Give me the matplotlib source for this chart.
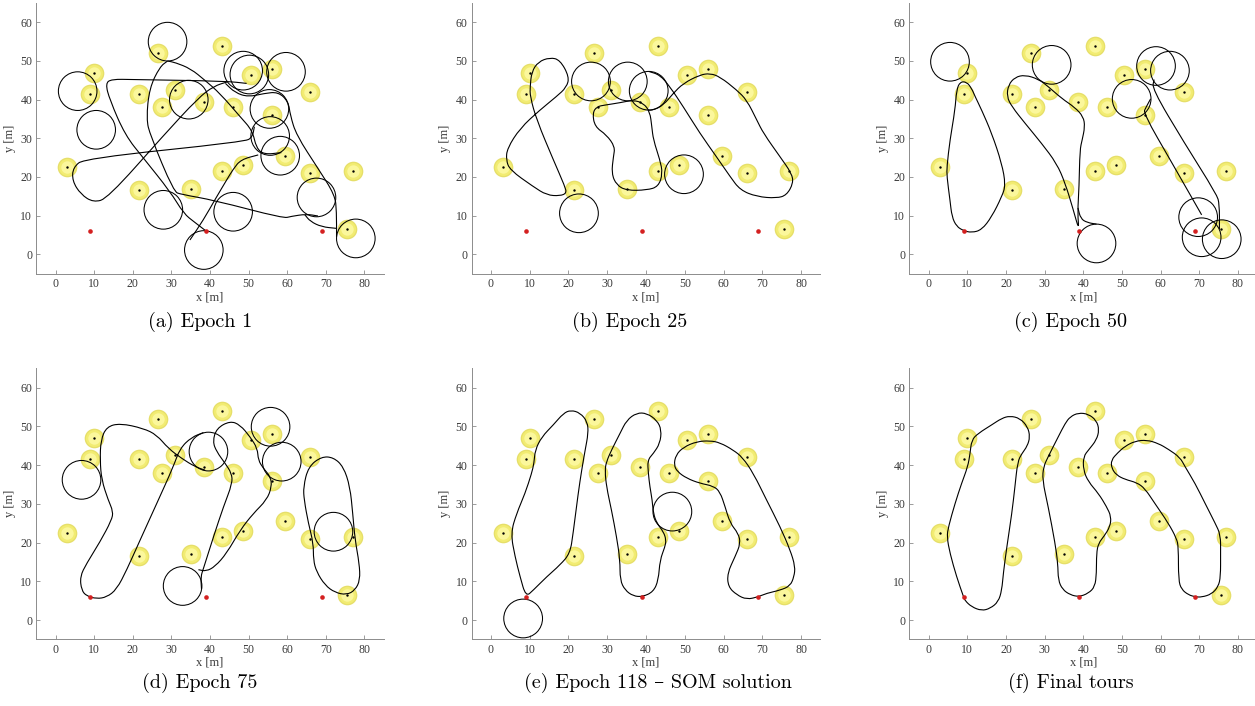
import matplotlib.pyplot as plt
from matplotlib.path import Path
from matplotlib.patches import PathPatch, Circle

# target positions [m]
targets_x = [3, 10, 9, 21.5, 26.5, 31, 27.5, 38.5, 43, 46, 50.5, 56, 56, 66,
             59.5, 48.5, 43, 35, 21.5, 66, 77, 75.5]
targets_y = [22.5, 47, 41.5, 41.5, 52, 42.5, 38, 39.5, 54, 38, 46.5, 48, 36, 42,
             25.5, 23, 21.5, 17, 16.5, 21, 21.5, 6.5]

# depots [m]
depots_x = [9, 39, 69]
depots_y = [6, 6, 6]

TURN_R = 5.0

# ---- (a) epoch 1 ----
strokes_a = [
    [(39, 6), (36, 8.3), (33.2, 10.5), (29.7, 16.2), (22.8, 24.8), (18, 30.8),
     (14, 40), (12.9, 44.2), (14.5, 45.3), (20, 45.2), (44, 44.8), (49.5, 44.2)],
    [(51.5, 33), (51, 30.3), (49, 29.1), (7.5, 24.8), (4.5, 22.5), (4.3, 19),
     (6.5, 15.5), (9.8, 13.4), (13.5, 14.5), (28, 30.8), (37, 40.5), (41, 43.5),
     (44.5, 44.6)],
    [(29, 50), (27, 48.5), (24.3, 43), (23.5, 35), (24.5, 30.8), (30.6, 16.2),
     (32.5, 15.5), (41, 14), (59, 9.3), (61, 9.8), (65, 10.4), (68, 9.9)],
    [(29, 50), (31, 49.6), (35, 48), (38.7, 45), (42.6, 41.6), (47.8, 35.6),
     (51, 32), (52, 27.5), (54, 25.8), (58.5, 26.3)],
    [(34.8, 3.7), (38.3, 8.9), (41.5, 14.5), (44.3, 19.2), (46, 22), (48, 24.5),
     (52.5, 25.7)],
    [(44, 44.2), (46.5, 41.8), (49.9, 40.7), (54, 41.6), (57.7, 42), (60.3, 39.5),
     (60.8, 36), (62.4, 30.8), (68, 22.2), (72.4, 15.3), (72.8, 11), (72.8, 4.5)],
    [(64.6, 10.2), (66, 8.5), (68.9, 7.1), (72.8, 6.7)],
]
loops_a = [(29, 55), (5.7, 42.2), (10.5, 32.2), (34.5, 40), (48.6, 47.5),
           (50.2, 46.5), (59.7, 47.2), (55.4, 37.6), (55.6, 30.6), (58.2, 25.5),
           (27.9, 11.5), (46, 11), (67.6, 14.7), (38.4, 1.1), (77.8, 4.1)]

# ---- (b) epoch 25 ----
tours_b = [
    [(3.9, 24.4), (4.2, 27.4), (7.5, 32.6), (12.6, 37.3), (16.9, 40.8), (19.5, 43.2),
     (20.2, 45.9), (17.8, 50.3), (15.2, 50.9), (12.2, 49.8), (10.5, 47.2), (10.1, 43.4),
     (10.1, 40.8), (11.8, 34.7), (16.1, 24.4), (19.1, 17.5), (19.5, 15.8), (17.8, 15.1),
     (14.4, 15.3), (10.9, 17.5), (4.9, 21.8)],
    [(29.4, 38.6), (33.3, 39.2), (36.7, 39.9), (39.3, 39.1), (41, 36.9), (41.5, 33),
     (41.9, 29.6), (43.6, 24.4), (44.3, 20.9), (43.2, 17.5), (40.2, 16.6), (35, 16.5),
     (32.4, 17.9), (31.1, 20.9), (31.6, 25.3), (32, 27.8), (29.8, 30.9), (26.8, 33),
     (26.2, 36.5), (27.3, 38.2)],
]
strokes_b = [
    [(40.7, 47.3), (43.6, 46.4), (46.2, 43.3), (49.6, 38.2), (53.9, 31.3), (58.2, 25.2),
     (61.7, 20.1), (64.3, 16.6), (68.6, 14.9), (73.7, 14.5), (76.3, 15.3), (78, 18.4),
     (77.6, 20.9), (74.6, 25.2), (70.3, 31.3), (68.6, 34.7), (66, 39.9), (63.4, 42.5),
     (59.1, 45.9), (56.5, 46.8), (53.9, 46.4), (49.6, 44.2), (47, 41.6), (44.5, 38.6),
     (41.9, 37.3), (40.5, 37.3)],
]
loops_b = [(25.8, 44.7), (35.3, 44.7), (40.7, 42.3), (49.8, 20.7), (22.7, 10.6)]

# ---- (c) epoch 50 ----
tours_c = [
    [(9, 6.1), (11.1, 5.6), (13.7, 6.3), (16.3, 9.7), (18.9, 14.9), (19.9, 17.9),
     (18.9, 23.5), (16.3, 31.3), (13.7, 37.3), (12, 40.8), (11.1, 42.9), (9.8, 44.6),
     (8.1, 44.6), (7.2, 42.5), (6.8, 37.3), (5.5, 29.6), (4.7, 22.7), (4.7, 20.1),
     (5.5, 14), (6, 9.7), (7.2, 7.2)],
    [(38.9, 6.1), (38.5, 10.6), (38.9, 17.5), (39.1, 27), (39.7, 29.6), (40.4, 33),
     (40, 35.6), (37.8, 38), (34.4, 40.3), (30.9, 43.4), (28.4, 45.3), (24.9, 46.4),
     (22.3, 45.8), (20.6, 43.8), (20.2, 40.8), (21.5, 38.2), (24.9, 33.9), (29.2, 28.7),
     (33.1, 23.5), (35.3, 18.4), (37.4, 11.5)],
]
strokes_c = [
    [(38.6, 12), (39.3, 9.2), (41, 8.2), (43.4, 7.8)],
    [(57.4, 40.2), (56.2, 38), (55.5, 36.5), (63, 23.5), (70.6, 10.2)],
    [(58.3, 45.2), (57.8, 42.8), (66, 29), (74.5, 15.5), (75.2, 13), (75.2, 6.5)],
]
loops_c = [(5.5, 49.8), (31.8, 49), (43.4, 2.8), (58.8, 48.7), (62.4, 47.5),
           (52.5, 40.2), (69.7, 9.6), (70.6, 4.4), (75.8, 3.9)]

# ---- (d) epoch 75 ----
tours_d = [
    [(64.2, 34.4), (65.5, 39.6), (68.9, 42.2), (72, 42), (74.6, 39.6), (76.3, 34.4),
     (77, 27.5), (77.6, 20.7), (78.7, 14.6), (78.9, 10.3), (77.6, 7.7), (75.4, 6.5),
     (72.4, 7.1), (69.8, 9), (67.6, 12.5), (66.8, 15.5), (66.8, 19.8), (65.5, 25),
     (64.4, 31)],
]
strokes_d = [
    [(38.3, 48.4), (35.2, 47.2), (32.2, 44.3), (30.5, 39.6), (26.2, 30.1), (21.9, 20.7),
     (18.4, 12.9), (15.8, 7.9), (13.2, 5.9), (10.6, 5.5), (8, 6.2), (6.7, 7.7),
     (6.3, 11.2), (8, 14.6), (11.5, 20.2), (14.5, 25.8), (14.9, 28), (13.6, 31),
     (11.9, 36.2), (11.5, 41.3), (11.7, 46.5), (13.2, 49.9), (16.7, 50.8), (22.7, 49.5),
     (26.2, 47.8), (29.2, 44.3), (32.7, 41.7), (36.1, 39.6), (38.7, 38.7)],
    [(37.8, 8), (37.6, 11.2), (38.3, 13.3), (40.9, 21.5), (43.5, 29.3), (45.8, 35.3),
     (45.6, 37.9), (43.9, 40.5), (41.7, 43.5), (40.7, 46.1), (41.7, 49.5), (45.2, 51.4),
     (47.8, 50.4), (50.4, 47.3), (52.3, 44.3), (52.5, 41.3), (53.8, 39.2), (55.7, 37),
     (56, 34.4), (54.7, 31), (51.2, 27.5), (47.8, 23.2), (44.3, 17.2), (41.3, 13.8),
     (39, 12.6), (37, 13)],
]
loops_d = [(6.7, 36.2), (39.6, 43.5), (55.7, 49.9), (58.6, 40.9), (32.9, 8.8),
           (72, 22.8)]

# ---- (e) epoch 118, SOM solution ----
tours_e = [
    [(9, 6), (7.5, 11.2), (6.2, 16.4), (5.1, 22.4), (6.6, 27.5), (8.8, 32.7),
     (10.5, 37.9), (11.1, 40.5), (11.4, 43.9), (13.1, 47.3), (16.1, 50.4), (18.7, 53.4),
     (20.6, 54.2), (23, 53.5), (24.9, 51.2), (25.1, 48.2), (24.3, 43.9), (23.4, 38.7),
     (22.5, 32.7), (21.2, 22.4), (20.4, 17.2), (17.8, 14.2), (14.4, 11.2), (10.9, 7.7)],
    [(39.1, 6), (41.9, 7.3), (43.2, 10.3), (43.6, 15.5), (44.9, 18.9), (45.2, 20.7),
     (44.5, 22.8), (42.8, 25), (41.9, 27.5), (41.6, 31), (41, 34.4), (40.6, 37.9),
     (40.4, 41.3), (41.9, 43), (43.6, 45.6), (44, 49.1), (42.8, 51.6), (40.2, 53.4),
     (37.6, 53.5), (35, 51.6), (33.3, 48.2), (31.1, 43.9), (29.8, 40.9), (29.4, 38.7),
     (29.8, 34.4), (31.1, 28.4), (32.4, 21.5), (33.3, 15.5), (33.3, 10.3), (34.6, 7.7),
     (36.7, 6.2)],
    [(69, 6), (71.1, 6.9), (74.6, 7.7), (77.2, 8.8), (78.2, 11.2), (78.5, 13.8),
     (77.2, 18.1), (74.6, 24.1), (71.1, 31), (67.7, 37.9), (64.9, 42), (62.5, 43.9),
     (59.1, 45.8), (56.5, 46.3), (53.1, 46.1), (49.6, 44.6), (47.7, 42.6), (47.2, 40),
     (48.1, 38.3), (50.5, 36.6), (53.9, 35.3), (57.4, 34.6), (59.1, 33.1), (60.4, 29.3),
     (61.7, 25), (63.8, 22.4), (64.4, 19.8), (63, 16.4), (61, 12.1), (61.2, 8.6),
     (63.4, 6.5), (66, 5.3)],
]
loops_e = [(8.3, 0.4), (46.8, 28)]

# ---- (f) final tours ----
tours_f = [
    [(9, 6), (7.2, 11.2), (5.5, 17.2), (4.7, 21.5), (5.1, 24.1), (6.8, 30.1),
     (8.5, 35.3), (10.1, 39.6), (10.7, 43), (11.1, 46.5), (12.8, 48.2), (16.3, 50.4),
     (18.9, 52.1), (21, 52.7), (23.6, 52.1), (25.6, 49.9), (26.2, 47.3), (25.5, 44.9),
     (24.1, 43), (23, 40.9), (22.3, 34.4), (21.5, 27.5), (20.2, 18.9), (19.3, 12.1),
     (18.9, 7.7), (18, 4.7), (15.9, 3), (13.7, 2.4), (11.1, 3.4), (9.4, 5)],
    [(38.9, 6), (41.3, 6.9), (43, 8.6), (43.4, 12.1), (43.4, 17.2), (43.9, 19.8),
     (45.4, 21.7), (46.9, 24.1), (47.2, 26.7), (46, 29.3), (43.9, 32.7), (41.3, 35.7),
     (40, 38.7), (40, 42.2), (41.5, 44.1), (43.4, 46.5), (44.1, 49.1), (43.4, 51.5),
     (41.3, 53.2), (38.7, 53.5), (36.6, 52.5), (35.3, 50.8), (33.5, 47.3), (30.9, 42.2),
     (29.7, 39.6), (29.4, 36.2), (30.9, 29.3), (32.7, 19.8), (33.4, 14.6), (33.5, 10.3),
     (34.6, 7.9), (36.6, 6.5)],
    [(68.9, 6), (70.6, 5.9), (73.2, 6.7), (74.9, 8.6), (75.5, 11.2), (75.5, 17.2),
     (75.5, 22), (74.1, 25), (71.5, 30.1), (68.9, 35.3), (66.3, 39.6), (65, 42),
     (62, 44.1), (59.4, 45.6), (56.4, 46.5), (53.4, 46.2), (50.8, 44.9), (48.9, 43.2),
     (47.2, 41.3), (47.3, 39.2), (48.6, 37.4), (50.8, 36.3), (53.8, 35.5), (55.9, 34),
     (58.5, 30.1), (62, 25), (64.1, 21.1), (64.6, 18.9), (64.6, 10.3), (65.4, 7.9),
     (67.2, 6.5)],
]

captions = ['(a) Epoch 1', '(b) Epoch 25', '(c) Epoch 50',
            '(d) Epoch 75', '(e) Epoch 118 \u2013 SOM solution', '(f) Final tours']


def smooth(points, closed):
    """Quadratic Bezier through midpoints of the control polygon."""
    pts = list(points)
    mid = lambda p, q: ((p[0] + q[0]) / 2, (p[1] + q[1]) / 2)
    verts, codes = [], []
    if closed:
        n = len(pts)
        verts.append(mid(pts[-1], pts[0]))
        codes.append(Path.MOVETO)
        for i in range(n):
            verts += [pts[i], mid(pts[i], pts[(i + 1) % n])]
            codes += [Path.CURVE3, Path.CURVE3]
    else:
        verts.append(pts[0])
        codes.append(Path.MOVETO)
        verts.append(mid(pts[0], pts[1]))
        codes.append(Path.LINETO)
        for i in range(1, len(pts) - 1):
            verts += [pts[i], mid(pts[i], pts[i + 1])]
            codes += [Path.CURVE3, Path.CURVE3]
        verts.append(pts[-1])
        codes.append(Path.LINETO)
    return Path(verts, codes)


W, H = 1255, 706
fig = plt.figure(figsize=(W / 100, H / 100), dpi=100)

boxes = [(36.4, 3.0, 383.6, 273.6), (471.6, 3.0, 820.4, 273.6), (909.4, 3.0, 1257.3, 273.6),
         (36.4, 368.3, 383.6, 639.4), (471.6, 368.3, 820.4, 639.4), (909.4, 368.3, 1257.3, 639.4)]
cap_pos = [(200, 322), (630, 322), (1071, 322), (200, 683), (658, 683), (1071, 683)]

panels = [
    ([], strokes_a, loops_a),
    (tours_b, strokes_b, loops_b),
    (tours_c, strokes_c, loops_c),
    (tours_d, strokes_d, loops_d),
    (tours_e, [], loops_e),
    (tours_f, [], []),
]

serif = 'Liberation Serif'
for k, ((l, t, r, b), (tours, strokes, loops)) in enumerate(zip(boxes, panels)):
    ax = fig.add_axes([l / W, 1 - b / H, (r - l) / W, (b - t) / H])
    ax.set_xlim(-5, 85)
    ax.set_ylim(-5, 65)
    ax.set_xticks(range(0, 81, 10))
    ax.set_yticks(range(0, 61, 10))
    for s in ['top', 'right']:
        ax.spines[s].set_visible(False)
    for s in ['left', 'bottom']:
        ax.spines[s].set_color('#8c8c8c')
        ax.spines[s].set_linewidth(0.7)
    ax.tick_params(direction='in', length=3, width=0.6, color='#8c8c8c',
                   labelsize=8.5, labelcolor='#3a3a3a', pad=3)
    for lab in ax.get_xticklabels() + ax.get_yticklabels():
        lab.set_fontfamily(serif)
    ax.set_xlabel('x [m]', fontsize=9, family=serif, color='#3a3a3a', labelpad=1)
    ax.set_ylabel('y [m]', fontsize=9, family=serif, color='#3a3a3a', labelpad=3)

    # targets: soft yellow discs with a dark centre
    ax.scatter(targets_x, targets_y, s=200, color='#e6df6a', zorder=1, linewidths=0)
    ax.scatter(targets_x, targets_y, s=150, color='#f2ec72', zorder=1, linewidths=0)
    ax.scatter(targets_x, targets_y, s=80, color='#fbf79c', zorder=1, linewidths=0)

    for tour in tours:
        ax.add_patch(PathPatch(smooth(tour, True), fill=False, lw=0.8,
                               edgecolor='black', zorder=2))
    for st in strokes:
        ax.add_patch(PathPatch(smooth(st, False), fill=False, lw=0.8,
                               edgecolor='black', zorder=2))
    for cx, cy in loops:
        ax.add_patch(Circle((cx, cy), TURN_R, fill=False, lw=0.75,
                            edgecolor='black', zorder=2))

    ax.scatter(targets_x, targets_y, s=3, color='black', zorder=3, linewidths=0)
    ax.scatter(depots_x, depots_y, s=11, color='#d42020', zorder=4, linewidths=0)

    cx, cy = cap_pos[k]
    fig.text(cx / W, 1 - cy / H, captions[k], ha='center', va='center',
             fontsize=14.5, family=['cmr10', 'DejaVu Serif'])

fig.savefig('out.png', dpi=100)
